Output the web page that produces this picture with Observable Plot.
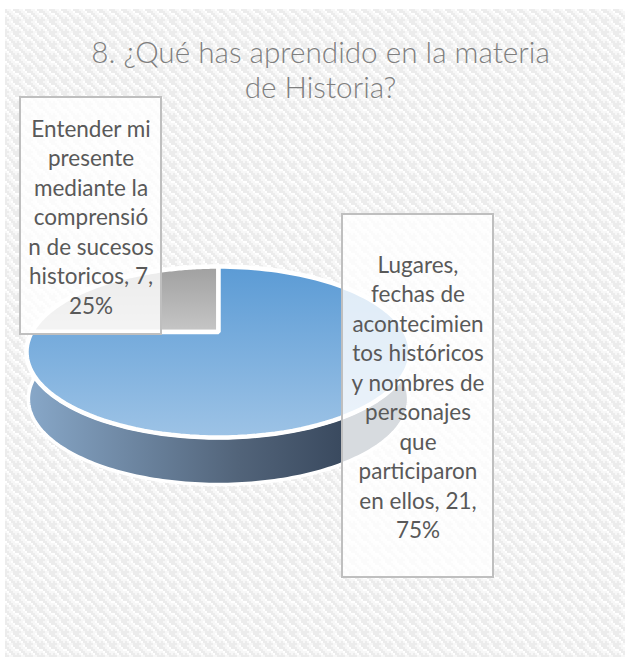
<!DOCTYPE html>
<html lang="es">
<head>
<meta charset="utf-8">
<script src="https://cdn.jsdelivr.net/npm/d3@7"></script>
<script src="https://cdn.jsdelivr.net/npm/@observablehq/plot@0.6"></script>
<style>html,body{margin:0;padding:0;background:#fff}svg{display:block;background:#fff}</style>
</head>
<body>
<div id="chart"></div>
<script>
// Data
const titleLines = ["8. ¿Qué has aprendido en la materia", "de Historia?"];
const categories = [
  "Lugares, fechas de acontecimientos históricos y nombres de personajes que participaron en ellos",
  "Entender mi presente mediante la comprensión de sucesos historicos"
];
const counts = [21, 7];
const wrappedCategories = [
  "Lugares,\nfechas de\nacontecimien\ntos históricos\ny nombres de\npersonajes\nque\nparticiparon\nen ellos",
  "Entender mi\npresente\nmediante la\ncomprensió\nn de sucesos\nhistoricos"
];

// Layout
const W = 625, H = 657;
const pieCenter = {x: 218, y: 331.5};
const radiusX = 186.7, persp = -0.234, radiusY = 80.8;
const depth = 47, wallShrink = 0.99;
const plate = {x1: 5, y1: 9, x2: W, y2: H};
const boxes = [
  {x1: 342, x2: 493, y1: 214, y2: 577},
  {x1: 20, x2: 161, y1: 97, y2: 334}
];

// Perspective projection of a pie circle: angle t is clockwise from 12 o'clock
function project(t, r = 1, dy = 0, shrink = 1) {
  const c = Math.sin(t), s = -Math.cos(t); // c: right, s: towards viewer
  const w = 1 + persp * s * r;
  return {x: pieCenter.x + shrink * radiusX * r * c / w, y: pieCenter.y + radiusY * r * s / w + dy};
}
const arcs = d3.pie().sort(null)(counts);
const total = d3.sum(counts);
function slicePolygon(a) {
  const n = 120, pts = [project(0, 0)];
  for (let i = 0; i <= n; i++) pts.push(project(a.startAngle + (a.endAngle - a.startAngle) * i / n));
  return pts;
}
const wall = (() => {
  const n = 160, top = [], bottom = [];
  for (let i = 0; i <= n; i++) {
    const t = Math.PI / 2 + Math.PI * i / n;
    top.push(project(t));
    bottom.push(project(t, 1, depth, wallShrink));
  }
  return top.concat(bottom.reverse());
})();
const labels = arcs.map((a, i) => ({
  text: `${wrappedCategories[i]}, ${counts[i]},\n${Math.round(100 * counts[i] / total)}%`,
  ...boxes[i]
}));

function defs() {
  const d = d3.create("svg:defs");
  const grad = (id, stops, x2, y2) => {
    const g = d.append("linearGradient").attr("id", id).attr("x1", 0).attr("y1", 0).attr("x2", x2).attr("y2", y2);
    stops.forEach(([o, c]) => g.append("stop").attr("offset", o).attr("stop-color", c));
  };
  grad("gBlue", [[0, "#5b9bd5"], [1, "#9dc3e6"]], 0, 1);
  grad("gGrey", [[0, "#a0a0a0"], [1, "#c6c6c6"]], 0, 1);
  grad("gWall", [[0, "#88a8c9"], [0.55, "#52647a"], [0.82, "#3a4a5f"], [1, "#3a4a5f"]], 1, 0);
  const p = d.append("pattern").attr("id", "weave").attr("width", 12).attr("height", 12)
    .attr("patternUnits", "userSpaceOnUse").attr("x", 5).attr("y", 9);
  p.append("rect").attr("width", 12).attr("height", 12).attr("fill", "#f7f7f7");
  p.append("path").attr("d", "M0 0h2v2h2v2h2v2h2v2h2v2h2v2h-4v-2h-2v-2h-2v-2h-2v-2h-2z M8 0h4v4h-2v-2h-2z M0 8h2v2h2v2h-4z")
    .attr("fill", "#ececec");
  p.append("path").attr("d", "M6 0h2v2h2v2h2v2h-2v-2h-2v-2h-2z M0 4h2v2h2v2h2v2h-2v-2h-2v-2h-2z")
    .attr("fill", "#ffffff");
  return d.node();
}

const xy = {x: "x", y: "y"};
const chart = Plot.plot({
  width: W, height: H,
  margin: 0,
  x: {domain: [0, W], range: [0, W], axis: null},
  y: {domain: [0, H], range: [0, H], axis: null},
  marks: [
    defs,
    Plot.rect([plate], {x1: "x1", x2: "x2", y1: "y1", y2: "y2", fill: "url(#weave)"}),
    Plot.line(wall, {...xy, fill: "url(#gWall)", stroke: "#fff", strokeWidth: 3.5, curve: "linear-closed", strokeLinejoin: "round"}),
    Plot.line(slicePolygon(arcs[1]), {...xy, fill: "url(#gGrey)", stroke: "#fff", strokeWidth: 4.5, curve: "linear-closed", strokeLinejoin: "miter"}),
    Plot.line(slicePolygon(arcs[0]), {...xy, fill: "url(#gBlue)", stroke: "#fff", strokeWidth: 4.5, curve: "linear-closed", strokeLinejoin: "miter"}),
    Plot.rect(labels, {x1: "x1", x2: "x2", y1: "y1", y2: "y2", fill: "#fff", fillOpacity: 0.8, stroke: "#bfbfbf", strokeWidth: 2}),
    Plot.text(labels, {
      x: d => (d.x1 + d.x2) / 2, y: d => (d.y1 + d.y2) / 2, text: "text",
      fontFamily: "Lato", fontSize: 22.5, lineHeight: 1.31, fill: "#595959", textAnchor: "middle", lineAnchor: "middle"
    }),
    Plot.text([titleLines.join("\n")], {
      x: () => 320, y: () => 68.5, text: d => d,
      fontFamily: "Lato", fontWeight: 300, fontSize: 29.7, lineHeight: 1.21, fill: "#7f7f7f", textAnchor: "middle", lineAnchor: "middle"
    })
  ]
});
document.getElementById("chart").append(chart);
</script>
</body>
</html>
